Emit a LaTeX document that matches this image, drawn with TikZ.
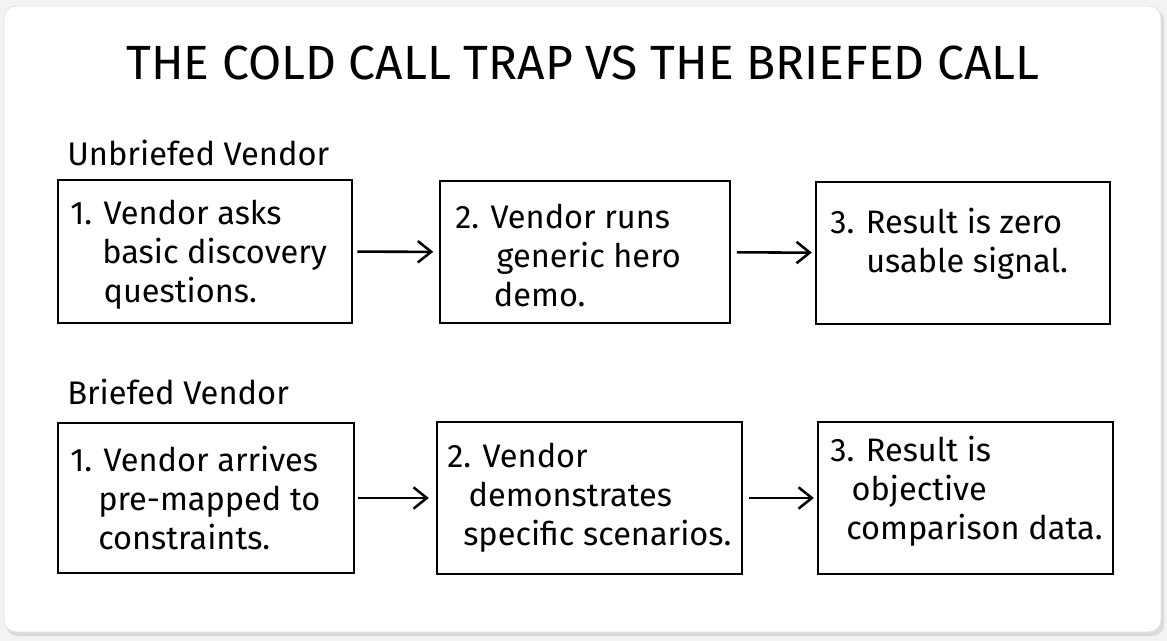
\documentclass[tikz,border=0pt]{standalone}
\usepackage{fontspec}
\setmainfont{Fira Sans}
\usetikzlibrary{arrows.meta}
\definecolor{pagebg}{HTML}{F3F3F3}
\definecolor{cardline}{HTML}{E2E2E2}
\definecolor{shadowc}{HTML}{DADADA}
\begin{document}
\begin{tikzpicture}[x=0.75pt,y=-0.75pt,
  box/.style={draw=black, line width=2.2pt, fill=white, inner sep=0pt},
  txt/.style={anchor=west, align=left, inner sep=0pt, font=\fontsize{24.4}{29.25}\selectfont},
  sect/.style={anchor=west, inner sep=0pt, font=\fontsize{24.5}{28}\selectfont},
  arr/.style={line width=1.9pt, -{Straight Barb[length=10pt,width=16pt,line width=1.9pt]}}
]
\useasboundingbox (0,0) rectangle (1167,641);
\fill[pagebg] (0,0) rectangle (1167,641);
\fill[shadowc, rounded corners=9pt] (6,9) rectangle (1164,636);
\filldraw[fill=white, draw=cardline, line width=0.6pt, rounded corners=9pt] (4,6) rectangle (1161,632);

\node[inner sep=0pt, font=\fontsize{36}{40}\selectfont] (title) at (583,63) {THE COLD CALL TRAP VS THE BRIEFED CALL};

\node[sect] (lab1) at (67,153) {Unbriefed Vendor};
\node[sect] (lab2) at (67,392) {Briefed Vendor};

% row 1
\node[box, minimum width=220.5pt, minimum height=107.25pt] (a1) at (205,251.5) {};
\node[box, minimum width=217.5pt, minimum height=106.5pt] (a2) at (585,252) {};
\node[box, minimum width=220.5pt, minimum height=106.5pt] (a3) at (963,253) {};
% row 2
\node[box, minimum width=222pt, minimum height=112.5pt] (b1) at (206,498) {};
\node[box, minimum width=228.75pt, minimum height=114pt] (b2) at (589.5,498) {};
\node[box, minimum width=221.25pt, minimum height=114pt] (b3) at (965.5,498) {};

\node[txt] (ta1) at (70,255) {1. Vendor asks\\\hspace*{24pt}basic discovery\\\hspace*{25pt}questions.};
\node[txt] (ta2) at (455,255) {2. Vendor runs\\\hspace*{31pt}generic hero\\\hspace*{29pt}demo.};
\node[txt] (ta3) at (830,243.5) {3. Result is zero\\\hspace*{27pt}usable signal.};

\node[txt] (tb1) at (70,498.5) {1. Vendor arrives\\\hspace*{21pt}pre-mapped to\\\hspace*{21pt}constraints.};
\node[txt] (tb2) at (447,497.5) {2. Vendor\\\hspace*{16pt}demonstrates\\\hspace*{12pt}specific scenarios.};
\node[txt] (tb3) at (830,491.5) {3. Result is\\\hspace*{16pt}objective\\\hspace*{12pt}comparison data.};

\draw[arr, shorten <=3pt, shorten >=4pt] (a1) -- (a2);
\draw[arr, shorten <=4pt, shorten >=2pt] (a2) -- (a3);
\draw[arr, shorten <=2pt, shorten >=5pt] (b1) -- (b2);
\draw[arr, shorten <=4pt, shorten >=2pt] (b2) -- (b3);
\end{tikzpicture}
\end{document}
